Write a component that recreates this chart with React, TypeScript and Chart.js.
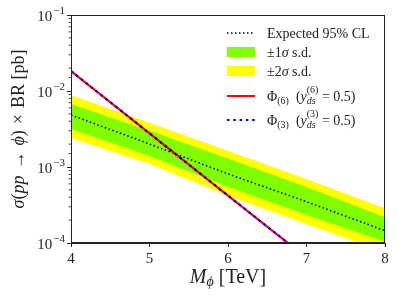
import React, { useEffect, useRef } from "react";
import { Chart, registerables } from "chart.js";
Chart.register(...registerables);

// ---- data ----
const massBand = [4, 5, 6, 7, 8];
const expected = [4.83e-3, 2.01e-3, 8.1e-4, 3.49e-4, 1.45e-4];
const oneSigmaUp = [6.75e-3, 3.0e-3, 1.29e-3, 5.46e-4, 2.18e-4];
const oneSigmaDown = [3.16e-3, 1.4e-3, 5.5e-4, 2.33e-4, 1.04e-4];
const twoSigmaUp = [8.86e-3, 3.83e-3, 1.64e-3, 6.95e-4, 2.86e-4];
const twoSigmaDown = [2.41e-3, 1.1e-3, 4.2e-4, 1.78e-4, 7.6e-5];
const massSignal = [4, 5, 6, 7];
const phi6 = [1.83e-2, 2.77e-3, 4.2e-4, 6.4e-5];
const phi3 = [1.83e-2, 2.77e-3, 4.2e-4, 6.4e-5];
const xTickValues = [4, 5, 6, 7, 8];
const yTickExponents = [-4, -3, -2, -1];

const SERIF = "'Liberation Serif', 'DejaVu Serif', serif";
const INK = "#222";

type Seg =
  | { t: string; f: string; dy?: number }
  | { sup: string; sub: string; supF: string; subF: string; supDy: number; subDy: number };

function segWidth(ctx: CanvasRenderingContext2D, s: Seg): number {
  if ("t" in s) {
    ctx.font = s.f;
    return ctx.measureText(s.t).width;
  }
  ctx.font = s.supF;
  const a = ctx.measureText(s.sup).width;
  ctx.font = s.subF;
  const b = ctx.measureText(s.sub).width;
  return Math.max(a, b);
}

function drawRich(ctx: CanvasRenderingContext2D, x: number, y: number, segs: Seg[], align: "left" | "center" = "left") {
  const total = segs.reduce((a, s) => a + segWidth(ctx, s), 0);
  let cx = align === "center" ? x - total / 2 : x;
  ctx.textAlign = "left";
  ctx.textBaseline = "alphabetic";
  for (const s of segs) {
    const w = segWidth(ctx, s);
    if ("t" in s) {
      ctx.font = s.f;
      ctx.fillText(s.t, cx, y + (s.dy || 0));
    } else {
      ctx.font = s.supF;
      ctx.fillText(s.sup, cx, y + s.supDy);
      ctx.font = s.subF;
      ctx.fillText(s.sub, cx, y + s.subDy);
    }
    cx += w;
  }
}

const isMajor = (v: number) => Math.abs(Math.log10(v) - Math.round(Math.log10(v))) < 1e-6;

const pts = (xs: number[], ys: number[]) => xs.map((x, i) => ({ x, y: ys[i] }));

const decorPlugin = {
  id: "decor",
  afterDraw(chart: any) {
    const ctx: CanvasRenderingContext2D = chart.ctx;
    const { left, right, top, bottom } = chart.chartArea;
    const ys = chart.scales.y;
    ctx.save();
    // frame
    ctx.strokeStyle = INK;
    ctx.lineWidth = 1;
    ctx.strokeRect(left + 0.5, top + 0.5, right - left - 1, bottom - top - 1);

    // minor y ticks
    ctx.lineWidth = 0.8;
    for (const t of ys.ticks) {
      if (isMajor(t.value)) continue;
      const py = ys.getPixelForValue(t.value);
      ctx.beginPath();
      ctx.moveTo(left - 2.5, py);
      ctx.lineTo(left, py);
      ctx.stroke();
    }

    // y tick labels 10^n
    ctx.fillStyle = INK;
    for (const e of yTickExponents) {
      const py = ys.getPixelForValue(Math.pow(10, e));
      const base = "15px " + SERIF;
      const supF = "11px " + SERIF;
      ctx.font = base;
      const w10 = ctx.measureText("10").width;
      ctx.font = supF;
      const sup = "\u2212" + Math.abs(e);
      const ws = ctx.measureText(sup).width;
      const xEnd = left - 6;
      const x0 = xEnd - ws - 1 - w10;
      ctx.textAlign = "left";
      ctx.textBaseline = "alphabetic";
      ctx.font = base;
      ctx.fillText("10", x0, py + 6);
      ctx.font = supF;
      ctx.fillText(sup, x0 + w10 + 1, py - 1);
    }

    // x title
    const xf = "20px " + SERIF;
    const xfi = "italic 20px " + SERIF;
    const xfs = "italic 14px " + SERIF;
    drawRich(
      ctx,
      (left + right) / 2,
      283,
      [
        { t: "M", f: xfi },
        { t: "\u03d5", f: xfs, dy: 3 },
        { t: " [TeV]", f: xf },
      ],
      "center"
    );

    // y title (rotated)
    ctx.save();
    ctx.translate(24, (top + bottom) / 2);
    ctx.rotate(-Math.PI / 2);
    const yf = "18px " + SERIF;
    const yfi = "italic 18px " + SERIF;
    drawRich(
      ctx,
      0,
      0,
      [
        { t: "\u03c3", f: yfi },
        { t: "(", f: yf },
        { t: "pp", f: yfi },
        { t: "\u2004\u2192\u2004", f: yf },
        { t: "\u03d5", f: yfi },
        { t: ")", f: yf },
        { t: "\u2004\u00d7\u2004BR [pb]", f: yf },
      ],
      "center"
    );
    ctx.restore();

    // legend
    const hx0 = 227, hx1 = 255, tx = 267;
    const lf = "14px " + SERIF;
    const lfi = "italic 14px " + SERIF;
    const lfs = "10px " + SERIF;
    const lfsi = "italic 10px " + SERIF;
    const rows = [33, 52, 71, 96, 120];
    // row 1: expected
    ctx.strokeStyle = "#000";
    ctx.lineWidth = 1.5;
    ctx.setLineDash([1.5, 2.5]);
    ctx.beginPath();
    ctx.moveTo(hx0, rows[0]);
    ctx.lineTo(hx1, rows[0]);
    ctx.stroke();
    ctx.setLineDash([]);
    ctx.fillStyle = INK;
    drawRich(ctx, tx, rows[0] + 5, [{ t: "Expected 95% CL", f: lf }]);
    // row 2: green
    ctx.fillStyle = "#80ff00";
    ctx.fillRect(hx0, rows[1] - 5, hx1 - hx0, 10);
    ctx.fillStyle = INK;
    drawRich(ctx, tx, rows[1] + 5, [
      { t: "\u00b11", f: lf },
      { t: "\u03c3", f: lfi },
      { t: " s.d.", f: lf },
    ]);
    // row 3: yellow
    ctx.fillStyle = "#ffff00";
    ctx.fillRect(hx0, rows[2] - 5, hx1 - hx0, 10);
    ctx.fillStyle = INK;
    drawRich(ctx, tx, rows[2] + 5, [
      { t: "\u00b12", f: lf },
      { t: "\u03c3", f: lfi },
      { t: " s.d.", f: lf },
    ]);
    // row 4: red
    ctx.strokeStyle = "#ff0000";
    ctx.lineWidth = 2;
    ctx.beginPath();
    ctx.moveTo(hx0, rows[3]);
    ctx.lineTo(hx1, rows[3]);
    ctx.stroke();
    const phiRow = (n: string): Seg[] => [
      { t: "\u03a6", f: lf },
      { t: "(" + n + ")", f: lfs, dy: 3 },
      { t: "  (", f: lf },
      { t: "y", f: lfi },
      { sup: "(" + n + ")", sub: "ds", supF: lfs, subF: lfsi, supDy: -8, subDy: 3 },
      { t: " = 0.5)", f: lf },
    ];
    ctx.fillStyle = INK;
    drawRich(ctx, tx, rows[3] + 5, phiRow("6"));
    // row 5: blue dotted
    ctx.strokeStyle = "#0000ff";
    ctx.lineWidth = 2.2;
    ctx.setLineDash([2.5, 3.8]);
    ctx.beginPath();
    ctx.moveTo(hx0, rows[4]);
    ctx.lineTo(hx1, rows[4]);
    ctx.stroke();
    ctx.setLineDash([]);
    drawRich(ctx, tx, rows[4] + 5, phiRow("3"));

    ctx.restore();
  },
};

export default function App() {
  const ref = useRef<HTMLCanvasElement | null>(null);
  useEffect(() => {
    document.body.style.margin = "0";
    const canvas = ref.current!;
    const chart = new Chart(canvas, {
      type: "line",
      data: {
        datasets: [
          {
            label: "+2 sigma",
            data: pts(massBand, twoSigmaUp),
            borderColor: "rgba(0,0,0,0)",
            borderWidth: 0,
            backgroundColor: "#ffff00",
            fill: "+1",
            pointRadius: 0,
            order: 10,
          },
          {
            label: "-2 sigma",
            data: pts(massBand, twoSigmaDown),
            borderColor: "rgba(0,0,0,0)",
            borderWidth: 0,
            fill: false,
            pointRadius: 0,
            order: 10,
          },
          {
            label: "+1 sigma",
            data: pts(massBand, oneSigmaUp),
            borderColor: "rgba(0,0,0,0)",
            borderWidth: 0,
            backgroundColor: "#80ff00",
            fill: "+1",
            pointRadius: 0,
            order: 9,
          },
          {
            label: "-1 sigma",
            data: pts(massBand, oneSigmaDown),
            borderColor: "rgba(0,0,0,0)",
            borderWidth: 0,
            fill: false,
            pointRadius: 0,
            order: 9,
          },
          {
            label: "Expected 95% CL",
            data: pts(massBand, expected),
            borderColor: "#000",
            borderWidth: 1.5,
            borderDash: [1.5, 2.5],
            fill: false,
            pointRadius: 0,
            order: 3,
          },
          {
            label: "Phi(6)",
            data: pts(massSignal, phi6),
            borderColor: "#ff0000",
            borderWidth: 2.2,
            fill: false,
            pointRadius: 0,
            order: 2,
          },
          {
            label: "Phi(3)",
            data: pts(massSignal, phi3),
            borderColor: "#0000ff",
            borderWidth: 2.2,
            borderDash: [2.5, 3.8],
            fill: false,
            pointRadius: 0,
            order: 1,
          },
        ],
      },
      options: {
        animation: false,
        responsive: false,
        devicePixelRatio: 1,
        layout: { padding: { top: 15, right: 14, left: 0, bottom: 0 } },
        plugins: { legend: { display: false }, tooltip: { enabled: false } },
        elements: { line: { tension: 0 } },
        scales: {
          x: {
            type: "linear",
            min: 4,
            max: 8,
            afterBuildTicks: (s: any) => {
              s.ticks = xTickValues.map((v) => ({ value: v }));
            },
            afterFit: (s: any) => {
              s.height = 56;
            },
            ticks: {
              font: { family: SERIF, size: 15 },
              color: INK,
              padding: 3,
              maxRotation: 0,
              autoSkip: false,
              callback: (v: any) => String(v),
            },
            grid: { drawOnChartArea: false, tickLength: 4, color: INK, tickWidth: 1 },
            border: { color: INK, width: 1 },
          },
          y: {
            type: "logarithmic",
            min: 1e-4,
            max: 1e-1,
            afterFit: (s: any) => {
              s.width = 71;
            },
            ticks: { autoSkip: false, callback: () => "" },
            grid: {
              drawOnChartArea: false,
              tickLength: 4,
              tickWidth: 1,
              tickColor: (c: any) => (c.tick && isMajor(c.tick.value) ? INK : "rgba(0,0,0,0)"),
              color: INK,
            },
            border: { color: INK, width: 1 },
          },
        },
      } as any,
      plugins: [decorPlugin],
    });
    return () => chart.destroy();
  }, []);
  return (
    <div style={{ width: 399, height: 299, overflow: "hidden", background: "#fff" }}>
      <canvas ref={ref} width={399} height={299} style={{ display: "block" }} />
    </div>
  );
}
